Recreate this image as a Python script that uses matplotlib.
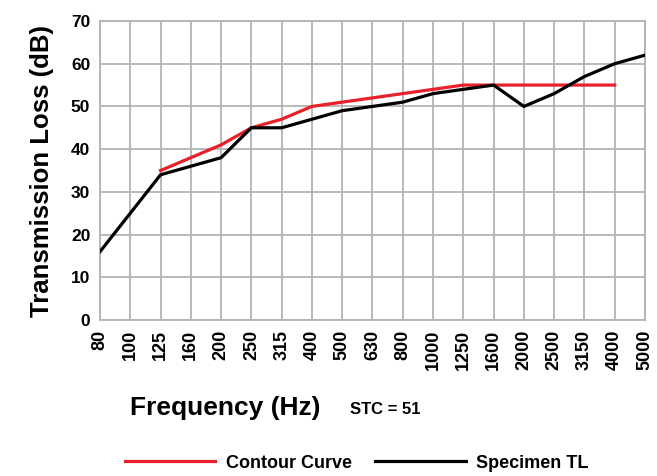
import numpy as np
import matplotlib
matplotlib.use("Agg")
import matplotlib.pyplot as plt

plt.rcParams['font.family'] = ['Liberation Sans Narrow', 'Liberation Sans', 'DejaVu Sans']
plt.rcParams['font.weight'] = 'bold'

freqs = ['80', '100', '125', '160', '200', '250', '315', '400', '500', '630',
         '800', '1000', '1250', '1600', '2000', '2500', '3150', '4000', '5000']

# Specimen TL, 80 Hz .. 5000 Hz
specimen_tl = [16, 25, 34, 36, 38, 45, 45, 47, 49, 50,
               51, 53, 54, 55, 50, 53, 57, 60, 62]

# STC contour, 125 Hz .. 4000 Hz
contour_start = 2
contour = [35, 38, 41, 45, 47, 50, 51, 52, 53, 54, 55, 55, 55, 55, 55, 55]

stc = 51

fig = plt.figure(figsize=(6.57, 4.76), dpi=100)
ax = fig.add_axes([0.1522, 0.3277, 0.8295, 0.6282])

x = np.arange(len(freqs))
xc = np.arange(contour_start, contour_start + len(contour))

ax.plot(xc, contour, color='#e8202a', lw=2.3, label='Contour Curve', zorder=3)
ax.plot(x, specimen_tl, color='black', lw=2.3, label='Specimen TL', zorder=4)

ax.set_xlim(0, len(freqs) - 1)
ax.set_ylim(0, 70)
ax.set_xticks(x)
ax.set_xticklabels(freqs, rotation=90, fontsize=13, fontweight='bold')
ax.set_yticks(np.arange(0, 71, 10))
ax.set_yticklabels([str(v) for v in range(0, 71, 10)], fontsize=12.5, fontweight='bold')
ax.tick_params(length=0, pad=7)
ax.tick_params(axis='x', pad=7)
ax.grid(True, color='#b3b3b3', lw=1.3)
for s in ax.spines.values():
    s.set_color('#b3b3b3')
    s.set_linewidth(1.3)

ax.set_ylabel('Transmission Loss (dB)', fontsize=18.5, fontweight='bold', labelpad=12)

fig.text(0.198, 0.142, 'Frequency (Hz)', fontsize=19, fontweight='bold', va='center', ha='left')
fig.text(0.533, 0.139, f'STC = {stc}', fontsize=12, fontweight='bold', va='center', ha='left')

fig.legend(loc='center', bbox_to_anchor=(0.543, 0.027), ncol=2, frameon=False,
           handlelength=5.0, columnspacing=1.3, handletextpad=0.6,
           prop={'weight': 'bold', 'size': 13})

fig.savefig('out.png', dpi=100)
